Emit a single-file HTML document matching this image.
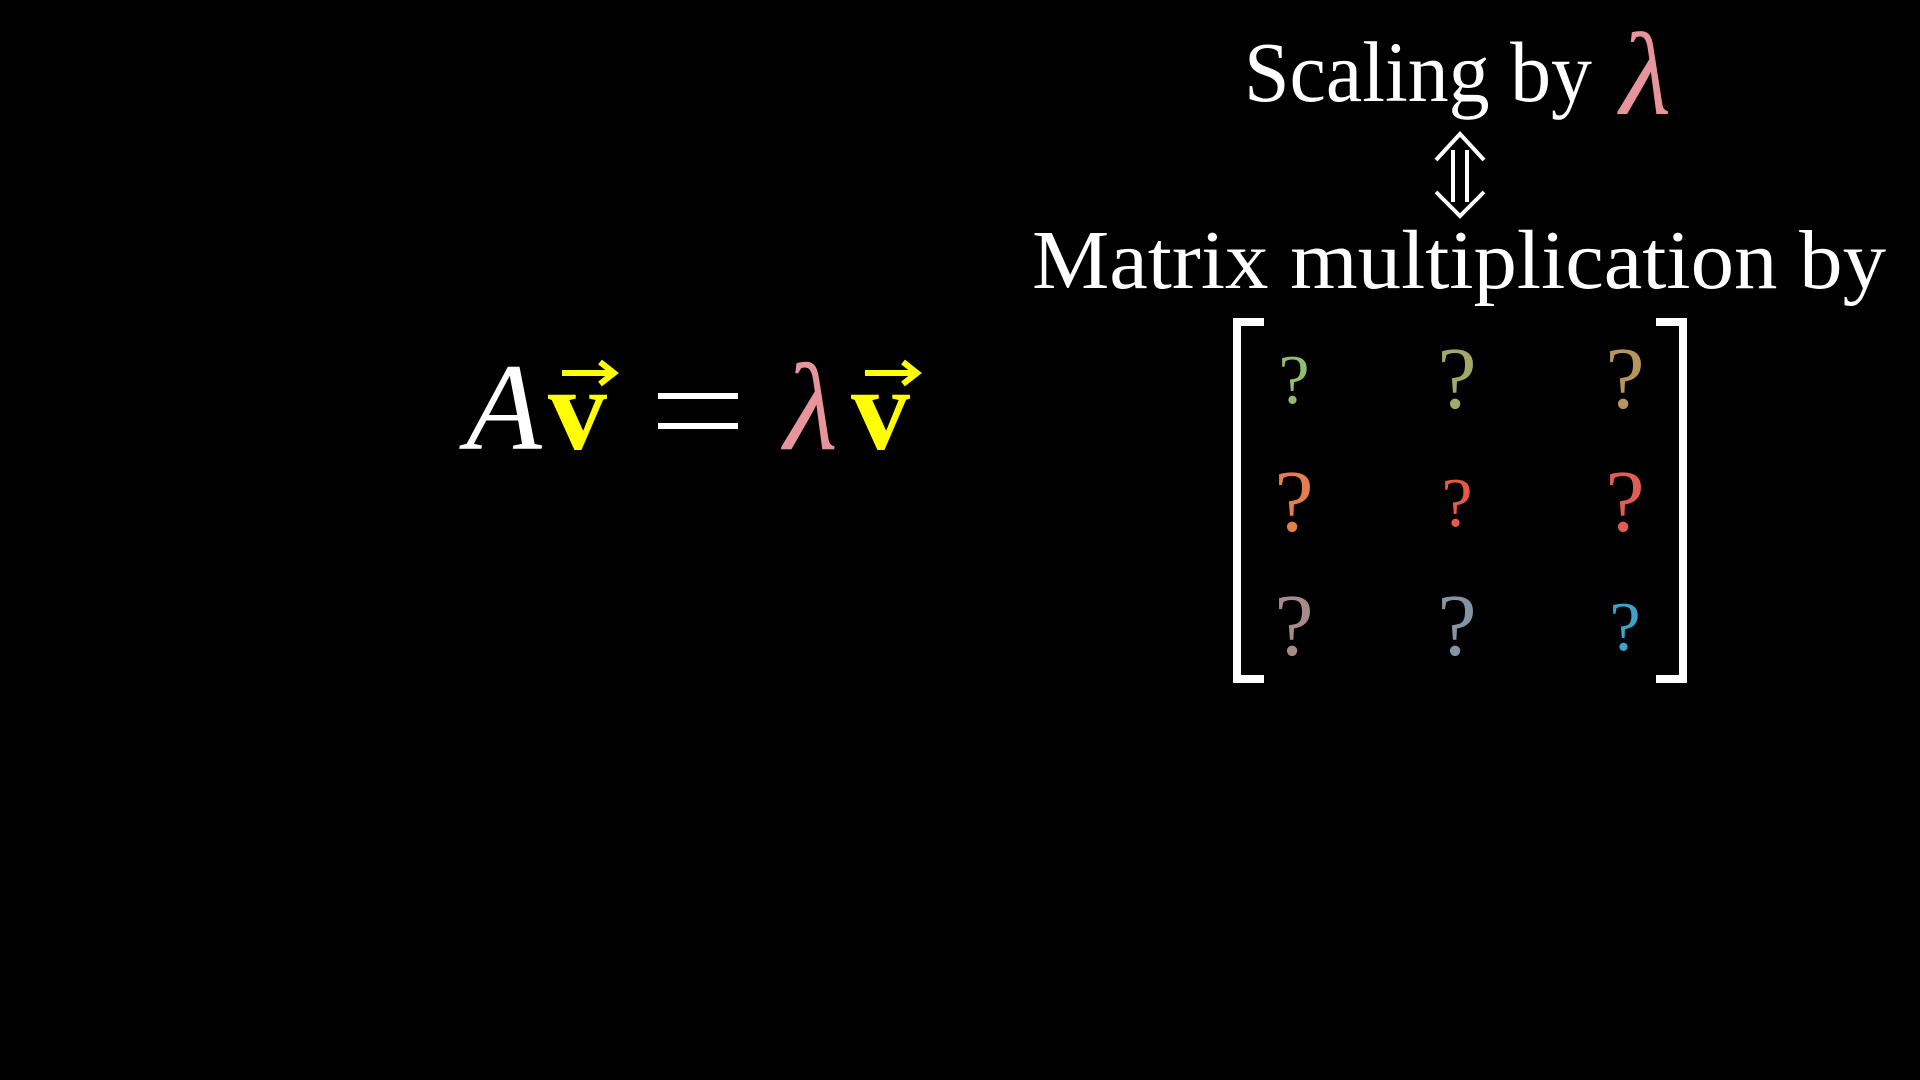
<!DOCTYPE html>
<html>
<head>
<meta charset="utf-8">
<style>
  html,body{margin:0;padding:0;background:#000;}
  svg{display:block;}
  text{font-family:"Liberation Serif", "DejaVu Serif", serif;}
</style>
</head>
<body>
<svg width="1920" height="1080" viewBox="0 0 1920 1080" xmlns="http://www.w3.org/2000/svg">
  <rect x="0" y="0" width="1920" height="1080" fill="#000"/>

  <g>
    <text x="466" y="449" font-size="124" font-style="italic" fill="#fff">A</text>
    <text x="548" y="449" font-size="118" font-weight="bold" fill="#ffff00">v</text>
    <g stroke="#ffff00" stroke-width="6" fill="none">
      <line x1="562" y1="373" x2="612" y2="373"/>
      <polyline points="600,362 614,373 600,384"/>
    </g>
    <g stroke="#fff" stroke-width="6">
      <line x1="658" y1="396" x2="738" y2="396"/>
      <line x1="658" y1="426" x2="738" y2="426"/>
    </g>
    <text x="784" y="449" font-size="124" font-style="italic" fill="#e8949c">λ</text>
    <text x="851" y="449" font-size="118" font-weight="bold" fill="#ffff00">v</text>
    <g stroke="#ffff00" stroke-width="6" fill="none">
      <line x1="865" y1="373" x2="915" y2="373"/>
      <polyline points="903,362 917,373 903,384"/>
    </g>
  </g>

  <text x="1244" y="101" font-size="86" fill="#fff" textLength="348" lengthAdjust="spacingAndGlyphs">Scaling by</text>
  <text x="1620" y="114" font-size="118" font-style="italic" fill="#e8949c">λ</text>

  <g stroke="#fff" stroke-width="4" fill="none">
    <line x1="1453" y1="150" x2="1453" y2="202"/>
    <line x1="1467" y1="150" x2="1467" y2="202"/>
    <polyline points="1436,160 1460,134 1484,160"/>
    <polyline points="1436,192 1460,216 1484,192"/>
  </g>

  <text x="1032" y="288" font-size="84" fill="#fff" textLength="854" lengthAdjust="spacingAndGlyphs">Matrix multiplication by</text>

  <g>
    <polyline points="1264,322 1237,322 1237,679 1264,679" fill="none" stroke="#fff" stroke-width="8"/>
    <polyline points="1656,322 1683,322 1683,679 1656,679" fill="none" stroke="#fff" stroke-width="8"/>
    <g font-size="88" text-anchor="middle">
      <text x="1294" y="403" font-size="70" fill="#8fbf6a">?</text>
      <text x="1457" y="408" fill="#a3a866">?</text>
      <text x="1625" y="408" fill="#b6945e">?</text>
      <text x="1294" y="531" fill="#e37e4e">?</text>
      <text x="1457" y="526" font-size="70" fill="#e85a45">?</text>
      <text x="1625" y="531" fill="#e05d55">?</text>
      <text x="1294" y="655" fill="#a88a8c">?</text>
      <text x="1457" y="655" fill="#8494a4">?</text>
      <text x="1625" y="650" font-size="70" fill="#3aa5c8">?</text>
    </g>
  </g>
</svg>
</body>
</html>
